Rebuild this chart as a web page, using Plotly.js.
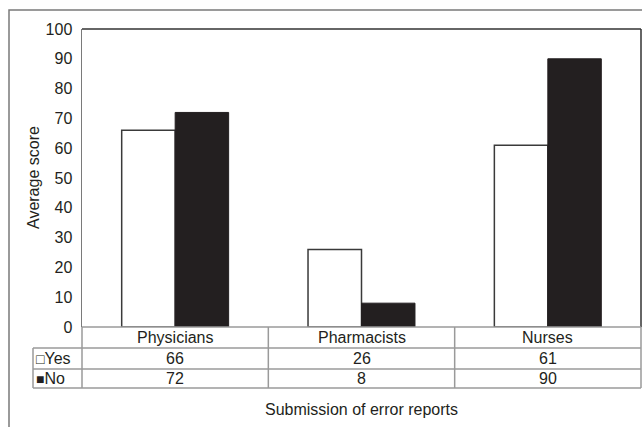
<!DOCTYPE html>
<html>
<head>
<meta charset="utf-8">
<script src="https://cdn.plot.ly/plotly-3.0.1.min.js"></script>
<style>html,body{margin:0;padding:0;background:#fff;}</style>
</head>
<body>
<div id="chart" style="width:642px;height:427px;"></div>
<script>
var categories = ["Physicians", "Pharmacists", "Nurses"];
var seriesNames = ["Yes", "No"];
var yesValues = [66, 26, 61];
var noValues = [72, 8, 90];
var legendMarks = ["\u25A1", "\u25A0"];
var yTickValues = [0, 10, 20, 30, 40, 50, 60, 70, 80, 90, 100];
var xTitle = "Submission of error reports";
var yTitle = "Average score";

var FONT = "Liberation Sans, Arial, sans-serif";
var TXT = "#231f20";
var FS = 16;

// pixel helpers for paper coords (plot area x 82..641, y 29..327)
function px(x) { return (x - 82) / 559; }
function py(y) { return (327 - y) / 298; }

var traces = [
  {type: "bar", name: seriesNames[0], x: categories, y: yesValues,
   marker: {color: "#ffffff", line: {color: "#3a3a3a", width: 1.5}}, hoverinfo: "none"},
  {type: "bar", name: seriesNames[1], x: categories, y: noValues,
   marker: {color: "#231f20", line: {color: "#231f20", width: 1}}, hoverinfo: "none"}
];

var shapes = [];
var gridCol = "#9a9a9a";
function hline(y, x0, x1, col, w) {
  shapes.push({type: "line", xref: "paper", yref: "paper", x0: px(x0), x1: px(x1), y0: py(y), y1: py(y), line: {color: col, width: w}});
}
function vline(x, y0, y1, col, w) {
  shapes.push({type: "line", xref: "paper", yref: "paper", x0: px(x), x1: px(x), y0: py(y0), y1: py(y1), line: {color: col, width: w}});
}
// outer border
shapes.push({type: "rect", xref: "paper", yref: "paper", x0: px(9), x1: px(660), y0: py(10), y1: py(460), line: {color: "#7a7a7a", width: 1.5}});
// plot frame top/right
hline(29, 82, 641, "#333333", 1.5);
vline(641, 29, 327, "#333333", 1.5);
// table
hline(327, 82, 641, gridCol, 1.5);
hline(348, 33, 641, gridCol, 1.5);
hline(369, 33, 641, gridCol, 1.5);
hline(388, 33, 641, gridCol, 1.5);
vline(33, 348, 388, gridCol, 1.5);
vline(82, 327, 388, gridCol, 1.5);
vline(641, 327, 388, gridCol, 1.5);
for (var i = 0; i < categories.length - 1; i++) {
  shapes.push({type: "line", xref: "x", yref: "paper", x0: i + 0.5, x1: i + 0.5, y0: py(327), y1: py(388), line: {color: gridCol, width: 1.5}});
}

var annotations = [];
var rows = [yesValues, noValues];
var rowCenters = [358.5, 378.5];
for (var c = 0; c < categories.length; c++) {
  annotations.push({x: categories[c], xref: "x", y: py(337.5), yref: "paper", text: categories[c], showarrow: false,
    xanchor: "center", yanchor: "middle", font: {family: FONT, size: FS, color: TXT}});
  for (var r = 0; r < rows.length; r++) {
    annotations.push({x: categories[c], xref: "x", y: py(rowCenters[r]), yref: "paper", text: String(rows[r][c]), showarrow: false,
      xanchor: "center", yanchor: "middle", font: {family: FONT, size: FS, color: TXT}});
  }
}
for (var r2 = 0; r2 < seriesNames.length; r2++) {
  annotations.push({x: px(34), xref: "paper", y: py(rowCenters[r2]), yref: "paper",
    text: "<span style='font-size:14px'>" + legendMarks[r2] + "</span>" + seriesNames[r2], showarrow: false,
    xanchor: "left", yanchor: "middle", font: {family: FONT, size: FS, color: TXT}});
}
annotations.push({x: px(361.5), xref: "paper", y: py(409), yref: "paper", text: xTitle, showarrow: false,
  xanchor: "center", yanchor: "middle", font: {family: FONT, size: FS, color: TXT}});
annotations.push({x: px(33), xref: "paper", y: py(178), yref: "paper", text: yTitle, showarrow: false, textangle: -90,
  xanchor: "center", yanchor: "middle", font: {family: FONT, size: FS, color: TXT}});

var layout = {
  width: 642, height: 427,
  margin: {l: 82, r: 1, t: 29, b: 100, pad: 0},
  paper_bgcolor: "#ffffff", plot_bgcolor: "#ffffff",
  showlegend: false,
  barmode: "group", bargap: 0.426, bargroupgap: 0,
  font: {family: FONT, size: FS, color: TXT},
  xaxis: {type: "category", range: [-0.5, 2.5], showticklabels: false, showgrid: false, zeroline: false, showline: false, ticks: "", fixedrange: true},
  yaxis: {range: [0, 100], tickvals: yTickValues, showgrid: false, zeroline: false, showline: true, linecolor: "#7a7a7a", linewidth: 1.5,
    ticks: "", ticklabelstandoff: 5, tickfont: {family: FONT, size: FS, color: TXT}, fixedrange: true},
  shapes: shapes,
  annotations: annotations
};

Plotly.newPlot("chart", traces, layout, {staticPlot: true, displayModeBar: false});
</script>
</body>
</html>
